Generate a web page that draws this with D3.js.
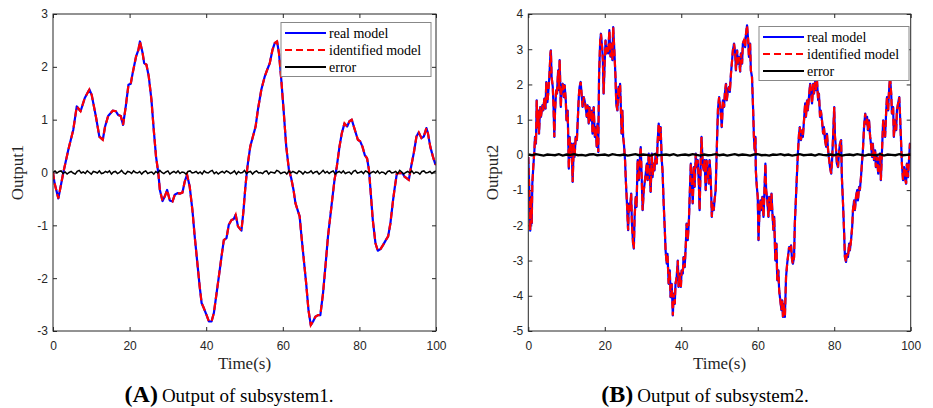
<!DOCTYPE html>
<html>
<head>
<meta charset="utf-8">
<script src="https://cdn.jsdelivr.net/npm/d3@7"></script>
<style>
  body { margin: 0; background: #fff; }
  .tick text { font-family: "Liberation Sans", Arial, sans-serif; font-size: 12px; fill: #262626; }
  .tick line { stroke: #262626; }
</style>
</head>
<body>
<svg id="chart" width="933" height="408"></svg>
<script>
// data
const timeTicks = [0, 20, 40, 60, 80, 100]
const yTicks1 = [-3, -2, -1, 0, 1, 2, 3]
const yTicks2 = [-5, -4, -3, -2, -1, 0, 1, 2, 3, 4]
const legendLabels = ["real model", "identified model", "error"]

// [time (s), output]
const output1 = [
  [0,0],[0.4,-0.2],[1.4,-0.49],[2.7,0],[4,0.43],[5.3,0.81],[6.2,1.25],[7.2,1.16],[8.3,1.41],[9.5,1.57],
  [10.1,1.47],[11.2,1.06],[12.1,0.68],[13,0.62],[13.6,0.87],[14.4,1.07],[15.6,1.17],[16.4,1.16],[17,1.09],[17.7,1.07],
  [18.3,0.9],[19,1.25],[19.7,1.66],[20.3,1.68],[20.8,1.88],[21.7,2.2],[22.3,2.32],[22.7,2.48],[23.4,2.26],[23.8,2.07],
  [24.4,2.04],[25,1.82],[25.7,1.38],[26.3,0.81],[26.9,0.3],[27.5,-0.01],[27.9,-0.33],[28.6,-0.54],[29.2,-0.45],[29.8,-0.33],
  [30.5,-0.53],[31.2,-0.55],[31.8,-0.42],[32.5,-0.39],[33.1,-0.4],[33.8,-0.38],[34.4,-0.17],[35,-0.04],[35.7,-0.27],[36.4,-0.71],
  [37,-1.21],[37.7,-1.72],[38.3,-2.16],[38.8,-2.47],[39.4,-2.57],[40.1,-2.7],[40.7,-2.82],[41.4,-2.82],[42,-2.66],[42.7,-2.29],
  [43.3,-1.97],[44,-1.59],[44.6,-1.28],[45.3,-1.24],[45.9,-0.99],[46.6,-0.9],[47.2,-0.88],[47.7,-0.8],[48.3,-1.02],[49.2,-1.1],
  [49.7,-0.75],[50.2,-0.3],[50.6,0],[50.9,0.18],[51.5,0.49],[52.2,0.68],[52.9,0.87],[53.5,1.19],[54.4,1.57],[55.3,1.82],
  [55.9,1.94],[56.6,2.07],[57.3,2.32],[57.9,2.45],[58.5,2.48],[59,2.26],[59.6,1.76],[60.2,1.19],[60.9,0.49],[61.6,0.05],
  [62.2,-0.11],[62.8,-0.33],[63.3,-0.58],[64,-0.74],[64.4,-0.83],[64.8,-1.15],[65.4,-1.59],[66.1,-2.1],[66.7,-2.6],[67.3,-2.89],
  [67.9,-2.82],[68.5,-2.73],[69.2,-2.7],[69.8,-2.7],[70.5,-2.29],[71.2,-1.72],[71.8,-1.21],[72.7,-0.64],[73.5,-0.14],[74.1,0.11],
  [74.8,0.49],[75.4,0.74],[76.1,0.93],[76.8,0.87],[77.4,0.97],[78,1.0],[78.8,0.81],[79.6,0.62],[80.2,0.59],[80.8,0.49],
  [81.4,0.33],[82,0.27],[82.5,0.05],[82.9,-0.33],[83.5,-0.9],[84.2,-1.34],[84.8,-1.48],[85.5,-1.45],[86.2,-1.37],[86.9,-1.28],
  [87.5,-1.21],[88.1,-0.96],[88.8,-0.52],[89.2,-0.3],[89.8,-0.01],[90.5,-0.01],[91.2,-0.01],[91.8,-0.08],[92.4,-0.11],[92.9,-0.14],
  [93.5,0.11],[94.2,0.37],[94.9,0.68],[95.5,0.76],[96.2,0.65],[96.8,0.68],[97.5,0.84],[97.9,0.74],[98.5,0.49],[99.2,0.3],
  [99.8,0.16],[100,0.15]
]

const output2 = [
  [0,-0.06],[0.2,-0.82],[0.4,-1.58],[0.5,-2.15],[0.7,-1.2],[0.9,-1.95],[1.05,-0.82],[1.3,-0.35],[1.6,0.13],[1.75,0.51],
  [2.0,0.32],[2.2,1.55],[2.4,0.79],[2.6,1.26],[2.8,0.6],[3.1,1.36],[3.3,1.08],[3.7,1.41],[3.9,1.26],[4.2,1.6],
  [4.5,1.31],[4.7,2.07],[5.0,1.5],[5.2,1.74],[5.5,2.21],[5.8,2.88],[5.9,2.97],[6.1,2.21],[6.4,1.93],[6.6,1.36],
  [6.8,0.51],[7.0,1.26],[7.3,1.84],[7.5,1.74],[7.8,2.4],[8.0,1.84],[8.2,2.69],[8.5,1.36],[8.7,1.93],[9.0,2.02],
  [9.3,1.64],[9.5,1.98],[9.8,1.55],[10.0,0.98],[10.3,1.26],[10.5,0.13],[10.6,-0.39],[10.8,0.51],[11.1,-0.06],[11.3,0.32],
  [11.6,-0.77],[11.9,0.32],[12.1,-0.06],[12.4,0.51],[12.7,0.42],[12.9,0.89],[13.2,1.64],[13.4,1.93],[13.7,2.07],[14.0,1.64],
  [14.2,1.36],[14.5,1.64],[14.7,1.55],[15.0,1.36],[15.3,1.08],[15.5,1.41],[15.8,0.89],[16.0,1.36],[16.3,0.98],[16.6,1.26],
  [16.8,0.6],[17.1,1.36],[17.4,0.51],[17.6,0.79],[17.9,0.23],[18.1,0.89],[18.3,0.08],[18.5,2.21],[18.8,3.25],[19.0,3.44],
  [19.3,3.06],[19.5,2.69],[19.7,1.74],[19.9,2.4],[20.2,3.25],[20.4,2.88],[20.7,3.06],[20.9,2.88],[21.2,3.54],[21.5,2.79],
  [21.7,3.16],[22.0,2.69],[22.2,3.63],[22.5,2.97],[22.8,2.21],[23.0,1.46],[23.3,1.26],[23.6,1.93],[23.8,1.64],[24.0,2.02],
  [24.2,1.36],[24.4,0.6],[24.6,1.26],[24.8,0.51],[25.0,0.32],[25.3,-0.15],[25.5,-0.72],[25.8,-1.38],[26.1,-2.14],[26.3,-1.38],
  [26.6,-1.57],[26.9,-1.1],[27.1,-1.95],[27.4,-2.52],[27.6,-2.66],[27.8,-1.76],[28.1,-1.19],[28.3,-1.48],[28.6,-0.15],[28.9,-0.72],
  [29.1,-0.25],[29.4,0.22],[29.6,-0.44],[29.9,-1.57],[30.2,-1.0],[30.4,-0.82],[30.7,-0.53],[31.0,-0.25],[31.2,-0.72],[31.5,0.04],
  [31.7,-0.44],[32.0,-1.05],[32.3,0.04],[32.5,-0.63],[32.8,-0.25],[33.0,-0.44],[33.3,0.04],[33.6,-0.25],[33.8,0.32],[34.1,0.89],
  [34.4,0.42],[34.6,0.79],[34.9,-0.15],[35.1,-0.44],[35.4,-1.38],[35.7,-2.14],[35.9,-2.71],[36.2,-3.09],[36.4,-2.81],[36.7,-3.66],
  [37.0,-3.28],[37.2,-4.04],[37.5,-3.66],[37.8,-4.56],[38.0,-3.94],[38.3,-4.23],[38.5,-3.66],[38.8,-3.47],[39.1,-3.0],[39.3,-3.75],
  [39.6,-3.37],[39.9,-3.75],[40.1,-3.28],[40.4,-3.37],[40.6,-2.9],[40.9,-3.19],[41.2,-2.52],[41.4,-1.95],[41.7,-2.42],[42.0,-1.86],
  [42.2,-1.19],[42.5,-0.25],[42.7,-0.63],[43.0,-1.38],[43.3,-0.35],[43.5,-0.91],[43.8,0.04],[44.0,-0.35],[44.3,-0.15],[44.6,-0.82],
  [44.8,-1.57],[45.1,-0.15],[45.3,0.51],[45.6,-0.25],[45.9,-0.44],[46.1,-0.15],[46.4,-1.0],[46.6,-0.15],[46.9,-0.44],[47.2,-0.82],
  [47.4,-0.15],[47.7,-0.63],[48.0,-1.76],[48.2,-1.38],[48.5,-1.57],[48.7,-1.29],[49.0,-1.0],[49.3,0.2],[49.6,1.3],[49.9,1.64],
  [50.1,1.46],[50.4,1.08],[50.6,0.79],[50.9,1.55],[51.2,1.36],[51.4,1.74],[51.7,2.02],[51.9,1.55],[52.2,1.84],[52.5,1.93],
  [52.7,1.79],[53.0,2.31],[53.3,2.69],[53.5,2.97],[53.8,3.16],[54.1,2.88],[54.3,2.4],[54.6,2.97],[54.8,2.59],[55.1,2.78],
  [55.4,2.36],[55.6,2.88],[55.9,2.59],[56.1,3.16],[56.4,3.25],[56.7,3.06],[56.9,3.4],[57.2,3.68],[57.5,3.25],[57.7,2.78],
  [58.0,3.16],[58.2,2.4],[58.5,2.21],[58.8,1.26],[59.0,0.51],[59.2,0.13],[59.4,0.51],[59.5,-0.44],[59.7,-0.82],[60.0,-1.19],
  [60.2,-2.42],[60.4,-1.76],[60.7,-1.29],[60.9,-1.57],[61.2,-1.19],[61.5,-1.76],[61.7,-1.19],[62.0,-0.25],[62.2,-1.0],[62.5,-1.29],
  [62.8,-1.76],[63.0,-1.19],[63.3,-1.57],[63.6,-1.1],[63.8,-1.57],[64.1,-2.14],[64.3,-1.76],[64.6,-3.0],[64.9,-2.52],[65.1,-3.56],
  [65.4,-3.28],[65.6,-3.85],[65.9,-4.13],[66.2,-4.41],[66.4,-4.13],[66.6,-4.6],[66.9,-4.23],[67.1,-4.6],[67.4,-3.47],[67.7,-3.09],
  [67.9,-2.9],[68.2,-2.62],[68.4,-2.71],[68.7,-2.57],[69.0,-3.0],[69.2,-3.09],[69.5,-2.9],[69.7,-1.95],[70.0,-1.19],[70.3,-0.44],
  [70.5,0.04],[70.8,0.6],[71.0,0.79],[71.3,0.42],[71.6,0.7],[71.8,0.51],[72.1,0.98],[72.4,1.46],[72.6,1.08],[72.9,1.55],
  [73.1,1.26],[73.4,1.64],[73.7,2.02],[73.9,1.84],[74.2,1.46],[74.5,2.02],[74.7,1.74],[75.0,2.07],[75.2,1.84],[75.5,2.1],
  [75.8,1.55],[76.0,1.74],[76.3,1.08],[76.5,1.26],[76.8,0.98],[77.1,0.6],[77.3,0.79],[77.6,0.42],[77.9,0.23],[78.1,0.6],
  [78.4,0.13],[78.6,-0.06],[78.9,-0.35],[79.2,-0.53],[79.4,-0.25],[79.7,0.51],[80.0,1.36],[80.2,0.51],[80.5,0.13],[80.7,-0.25],
  [81.0,-0.35],[81.3,0.13],[81.5,0.32],[81.8,0.42],[82.0,-0.63],[82.3,-1.38],[82.6,-2.23],[82.8,-2.9],[83.1,-3.04],[83.3,-2.81],
  [83.6,-2.9],[83.9,-2.52],[84.1,-2.71],[84.4,-2.42],[84.7,-2.04],[84.9,-1.57],[85.2,-1.29],[85.4,-1.57],[85.7,-1.19],[86.0,-1.0],
  [86.2,-1.29],[86.5,-0.91],[86.7,-1.0],[87.0,-0.63],[87.3,-0.15],[87.5,0.13],[87.8,0.79],[88.1,1.17],[88.3,0.89],[88.6,1.08],
  [88.8,0.7],[89.1,0.98],[89.4,0.51],[89.6,0.32],[89.9,-0.06],[90.1,0.32],[90.4,-0.15],[90.7,0.13],[90.9,-0.35],[91.2,-0.06],
  [91.5,-0.53],[91.7,-0.25],[92.0,0.04],[92.2,-0.72],[92.5,0.13],[92.8,0.98],[93.0,0.79],[93.3,0.51],[93.6,1.26],[93.8,1.64],
  [94.1,1.26],[94.3,1.74],[94.6,2.21],[94.9,1.74],[95.1,1.17],[95.4,1.36],[95.6,0.51],[95.9,0.98],[96.2,0.7],[96.4,1.26],
  [96.7,1.46],[97.0,1.64],[97.2,1.17],[97.5,0.32],[97.7,-0.25],[98.0,-0.72],[98.3,-0.35],[98.5,-0.63],[98.8,-0.82],[99.0,-0.25],
  [99.3,-0.63],[99.6,-0.06],[99.8,0.32],[100,0.25]
]

// identification error, sampled every 0.5 s (panel A) and 1 s (panel B)
const error1 = [
  0.00,0.03,-0.01,0.02,0.03,-0.02,0.01,-0.03,0.00,0.02,-0.01,-0.03,0.02,0.04,-0.01,0.01,-0.02,0.03,0.00,-0.03,
  0.02,0.01,-0.01,0.03,-0.02,-0.01,0.02,0.00,0.03,-0.03,0.01,0.02,-0.02,0.00,0.04,-0.01,-0.03,0.02,0.01,-0.02,
  0.03,0.00,-0.01,0.02,-0.03,0.01,0.03,-0.02,0.00,0.01,-0.03,0.02,-0.01,0.04,0.00,-0.02,0.01,0.03,-0.03,0.00,
  0.02,-0.01,0.03,-0.02,0.01,0.00,-0.03,0.02,0.03,-0.01,0.00,0.02,-0.02,0.01,-0.03,0.03,0.00,-0.01,0.02,0.04,
  -0.02,0.01,-0.03,0.00,0.02,-0.01,0.03,0.01,-0.02,0.00,0.03,-0.03,0.02,-0.01,0.00,0.04,-0.02,0.01,0.02,-0.03,
  0.01,0.03,-0.01,0.00,-0.02,0.02,0.03,-0.03,0.01,0.00,-0.01,0.04,0.02,-0.02,0.00,0.01,-0.03,0.03,-0.01,0.02,
  0.00,-0.02,0.03,0.01,-0.03,0.02,-0.01,0.00,0.03,-0.02,0.01,0.02,-0.03,0.00,0.04,-0.01,0.02,-0.02,0.01,0.03,
  -0.03,0.00,0.02,-0.01,0.03,-0.02,0.00,0.01,-0.03,0.02,0.04,-0.01,0.00,0.02,-0.02,0.03,0.01,-0.03,0.00,0.02,
  -0.01,0.03,-0.02,0.01,0.00,-0.03,0.02,0.03,-0.01,0.00,0.02,-0.02,0.04,0.01,-0.03,0.00,0.02,-0.01,0.03,-0.02,
  0.01,0.00,-0.03,0.02,0.03,-0.01,0.00,0.02,-0.02,0.01,0.03
]
const error2 = [
  0.01,-0.01,0.02,0.00,-0.02,0.01,0.00,-0.01,0.02,-0.02,0.01,0.00,0.02,-0.01,0.00,-0.02,0.01,0.02,-0.01,0.00,
  0.01,-0.02,0.02,0.00,-0.01,0.01,-0.02,0.00,0.02,-0.01,0.01,0.00,-0.02,0.02,-0.01,0.00,0.01,-0.01,0.02,-0.02,
  0.00,0.01,-0.01,0.02,0.00,-0.02,0.01,-0.01,0.00,0.02,-0.01,0.01,-0.02,0.00,0.02,-0.01,0.01,0.00,-0.02,0.01,
  0.02,-0.01,0.00,-0.02,0.01,0.00,0.02,-0.01,0.01,-0.02,0.00,0.02,-0.01,0.00,0.01,-0.02,0.02,0.00,-0.01,0.01,
  -0.01,0.02,-0.02,0.00,0.01,-0.01,0.02,0.00,-0.02,0.01,0.00,-0.01,0.02,-0.02,0.01,0.00,-0.01,0.02,-0.01,0.00,
  0.01
]

const svg = d3.select("#chart")
const SERIF = "'Liberation Serif', 'DejaVu Serif', serif"
const plainNum = d => String(d)

function panel(o) {
  const x = d3.scaleLinear().domain([0, 100]).range([o.left, o.right])
  const y = d3.scaleLinear().domain(o.yDomain).range([o.bottom, o.top])
  const g = svg.append("g")

  // inside ticks on all four sides
  g.append("g").attr("transform", `translate(0,${o.bottom})`)
    .call(d3.axisBottom(x).tickValues(timeTicks).tickFormat(plainNum).tickSizeInner(-4).tickSizeOuter(0).tickPadding(10))
  g.append("g").attr("transform", `translate(0,${o.top})`)
    .call(d3.axisTop(x).tickValues(timeTicks).tickSizeInner(-4).tickSizeOuter(0).tickFormat(""))
  g.append("g").attr("transform", `translate(${o.left},0)`)
    .call(d3.axisLeft(y).tickValues(o.yTicks).tickFormat(plainNum).tickSizeInner(-4).tickSizeOuter(0).tickPadding(5))
  g.append("g").attr("transform", `translate(${o.right},0)`)
    .call(d3.axisRight(y).tickValues(o.yTicks).tickSizeInner(-4).tickSizeOuter(0).tickFormat(""))
  g.selectAll(".domain").remove()

  const clipId = "clip" + o.name
  g.append("clipPath").attr("id", clipId).append("rect")
    .attr("x", o.left).attr("y", o.top).attr("width", o.right - o.left).attr("height", o.bottom - o.top)

  const line = d3.line().x(d => x(d[0])).y(d => y(d[1]))
  const plot = g.append("g").attr("clip-path", `url(#${clipId})`)
  plot.append("path").attr("d", line(o.data))
    .attr("fill", "none").attr("stroke", "#0000ff").attr("stroke-width", 2.2).attr("stroke-linejoin", "round")
  plot.append("path").attr("d", line(o.data))
    .attr("fill", "none").attr("stroke", "#ff0000").attr("stroke-width", 2.2).attr("stroke-dasharray", "7,4")
  const errLine = d3.line().x((d, i) => x(i * 100 / (o.error.length - 1))).y(d => y(d))
  plot.append("path").attr("d", errLine(o.error))
    .attr("fill", "none").attr("stroke", "#000").attr("stroke-width", o.errWidth)

  g.append("rect").attr("x", o.left).attr("y", o.top)
    .attr("width", o.right - o.left).attr("height", o.bottom - o.top)
    .attr("fill", "none").attr("stroke", "#262626").attr("stroke-width", 1)

  // axis titles
  g.append("text").attr("x", (o.left + o.right) / 2).attr("y", 369)
    .attr("text-anchor", "middle").attr("font-family", SERIF).attr("font-size", 17).attr("fill", "#262626")
    .text("Time(s)")
  g.append("text").attr("transform", `translate(${o.left - 30},${(o.top + o.bottom) / 2}) rotate(-90)`)
    .attr("text-anchor", "middle").attr("font-family", SERIF).attr("font-size", 17).attr("fill", "#262626")
    .text(o.yLabel)

  // legend
  const lg = g.append("g").attr("transform", `translate(${o.legend[0]},${o.legend[1]})`)
  lg.append("rect").attr("width", 150).attr("height", 54)
    .attr("fill", "#fff").attr("stroke", "#888").attr("stroke-width", 1)
  const styles = [["#0000ff", null], ["#ff0000", "7,4"], ["#000", null]]
  legendLabels.forEach((lab, i) => {
    const yy = 10.5 + i * 17
    lg.append("line").attr("x1", 4).attr("x2", 45).attr("y1", yy).attr("y2", yy)
      .attr("stroke", styles[i][0]).attr("stroke-width", 2).attr("stroke-dasharray", styles[i][1])
    lg.append("text").attr("x", 48).attr("y", yy + 4.5)
      .attr("font-family", SERIF).attr("font-size", 14).attr("fill", "#000").text(lab)
  })

  // caption
  const cap = svg.append("text").attr("x", o.capX).attr("y", 402)
    .attr("text-anchor", "middle").attr("font-family", SERIF).attr("fill", "#000")
  cap.append("tspan").attr("font-weight", "bold").attr("font-size", 24).text(o.capTag)
  cap.append("tspan").attr("font-size", 19).attr("dx", 4).text(o.capText)
}

panel({
  name: "A", left: 53, right: 436, top: 14, bottom: 331,
  yDomain: [-3, 3], yTicks: yTicks1, data: output1, error: error1, errWidth: 1.5,
  yLabel: "Output1", legend: [281, 22.5], capX: 229, capTag: "(A)", capText: "Output of subsystem1."
})
panel({
  name: "B", left: 528.3, right: 910.7, top: 14, bottom: 331,
  yDomain: [-5, 4], yTicks: yTicks2, data: output2, error: error2, errWidth: 2.4,
  yLabel: "Output2", legend: [759, 26.5], capX: 705, capTag: "(B)", capText: "Output of subsystem2."
})
</script>
</body>
</html>
